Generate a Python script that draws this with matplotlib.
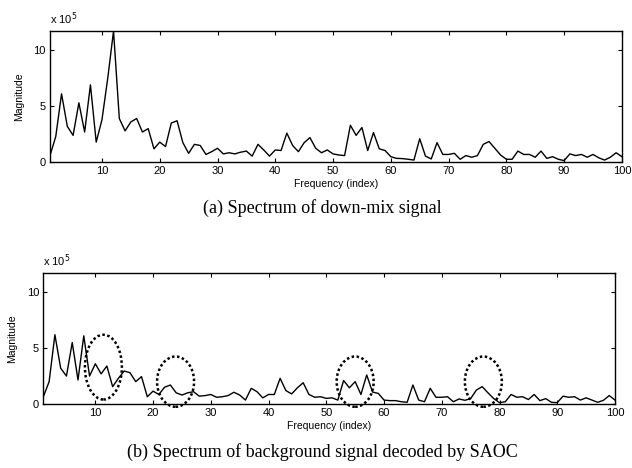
import matplotlib
matplotlib.use("Agg")
import matplotlib.pyplot as plt
from matplotlib.patches import Ellipse
import numpy as np

# frequency index 1..100, magnitudes in units of 1e5
freq = np.arange(1, 101)

downmix = [
    0.6, 2.3, 6.1, 3.2, 2.4, 5.3, 2.7, 6.9, 1.8, 3.8,
    7.5, 11.7, 3.9, 2.8, 3.6, 3.9, 2.7, 3.0, 1.2, 1.8,
    1.4, 3.5, 3.7, 1.75, 0.8, 1.6, 1.5, 0.7, 0.95, 1.25,
    0.75, 0.85, 0.75, 0.9, 1.0, 0.55, 1.6, 1.1, 0.55, 1.1,
    1.05, 2.6, 1.5, 0.95, 1.75, 2.2, 1.25, 0.85, 1.1, 0.75,
    0.65, 0.6, 3.3, 2.4, 3.1, 1.05, 2.65, 1.2, 1.05, 0.5,
    0.35, 0.33, 0.27, 0.2, 2.1, 0.55, 0.3, 1.75, 0.7, 0.7,
    0.8, 0.27, 0.6, 0.45, 0.6, 1.6, 1.85, 1.25, 0.65, 0.27,
    0.27, 1.0, 0.7, 0.7, 0.45, 1.0, 0.35, 0.5, 0.27, 0.15,
    0.75, 0.6, 0.7, 0.45, 0.7, 0.4, 0.2, 0.45, 0.85, 0.5,
]

background = [
    0.65, 2.0, 6.2, 3.2, 2.5, 5.5, 2.15, 6.1, 2.5, 3.6,
    2.7, 3.4, 1.55, 2.3, 2.95, 2.8, 2.0, 2.45, 0.65, 1.15,
    0.85, 1.5, 1.7, 1.0, 0.8, 1.0, 1.1, 0.7, 0.75, 0.85,
    0.6, 0.65, 0.75, 1.05, 0.8, 0.35, 1.4, 1.1, 0.55, 0.85,
    0.85, 2.3, 1.2, 0.9, 1.45, 1.9, 0.85, 0.6, 0.65, 0.5,
    0.55, 0.35, 2.1, 1.45, 2.0, 0.85, 2.6, 1.07, 0.95, 0.35,
    0.3, 0.3, 0.2, 0.15, 1.7, 0.35, 0.2, 1.4, 0.6, 0.6,
    0.65, 0.2, 0.45, 0.33, 0.48, 1.25, 1.55, 1.0, 0.48, 0.12,
    0.2, 0.85, 0.6, 0.65, 0.4, 0.85, 0.3, 0.48, 0.15, 0.12,
    0.7, 0.6, 0.65, 0.35, 0.55, 0.35, 0.15, 0.33, 0.75, 0.35,
]

# circled regions in panel (b): (centre x, centre y, width, height)
circles = [
    (11.4, 3.3, 6.4, 5.8),
    (23.9, 2.0, 6.4, 4.5),
    (55.0, 2.0, 6.4, 4.5),
    (77.2, 2.0, 6.4, 4.5),
]

captions = [
    "(a) Spectrum of down-mix signal",
    "(b) Spectrum of background signal decoded by SAOC",
]

SANS = ["Liberation Sans", "DejaVu Sans"]
SERIF = ["Liberation Serif", "DejaVu Serif"]


def style_axes(ax):
    ax.set_xlim(1, 100)
    ax.set_ylim(0, 11.7)
    ax.set_xticks(np.arange(10, 101, 10))
    ax.set_yticks([0, 5, 10])
    ax.tick_params(direction="in", length=3, width=0.8, top=True, right=True,
                   labelsize=8, pad=3)
    for label in ax.get_xticklabels() + ax.get_yticklabels():
        label.set_family(SANS)
    for spine in ax.spines.values():
        spine.set_linewidth(1.0)
    ax.set_xlabel("Frequency (index)", fontsize=7.5, family=SANS, labelpad=2)
    ax.set_ylabel("Magnitude", fontsize=7.5, family=SANS, labelpad=7)
    ax.text(0.0, 1.03, r"x 10$^{5}$", transform=ax.transAxes, fontsize=8,
            family=SANS, ha="left", va="bottom")


fig = plt.figure(figsize=(6.32, 4.68), dpi=100)
ax1 = fig.add_axes([0.0791, 0.6532, 0.9049, 0.2806])
ax2 = fig.add_axes([0.0686, 0.1368, 0.9045, 0.2792])

ax1.plot(freq, downmix, color="black", linewidth=1.0)
style_axes(ax1)

ax2.plot(freq, background, color="black", linewidth=1.0)
style_axes(ax2)
for cx, cy, w, h in circles:
    ax2.add_patch(Ellipse((cx, cy), w, h, fill=False, edgecolor="black",
                          linestyle=(0, (1, 1)), linewidth=1.8, clip_on=False))

fig.text(0.51, 0.556, captions[0], ha="center", va="center", fontsize=13,
         family=SERIF)
fig.text(0.51, 0.034, captions[1], ha="center", va="center", fontsize=13,
         family=SERIF)

fig.savefig("out.png", dpi=100)
